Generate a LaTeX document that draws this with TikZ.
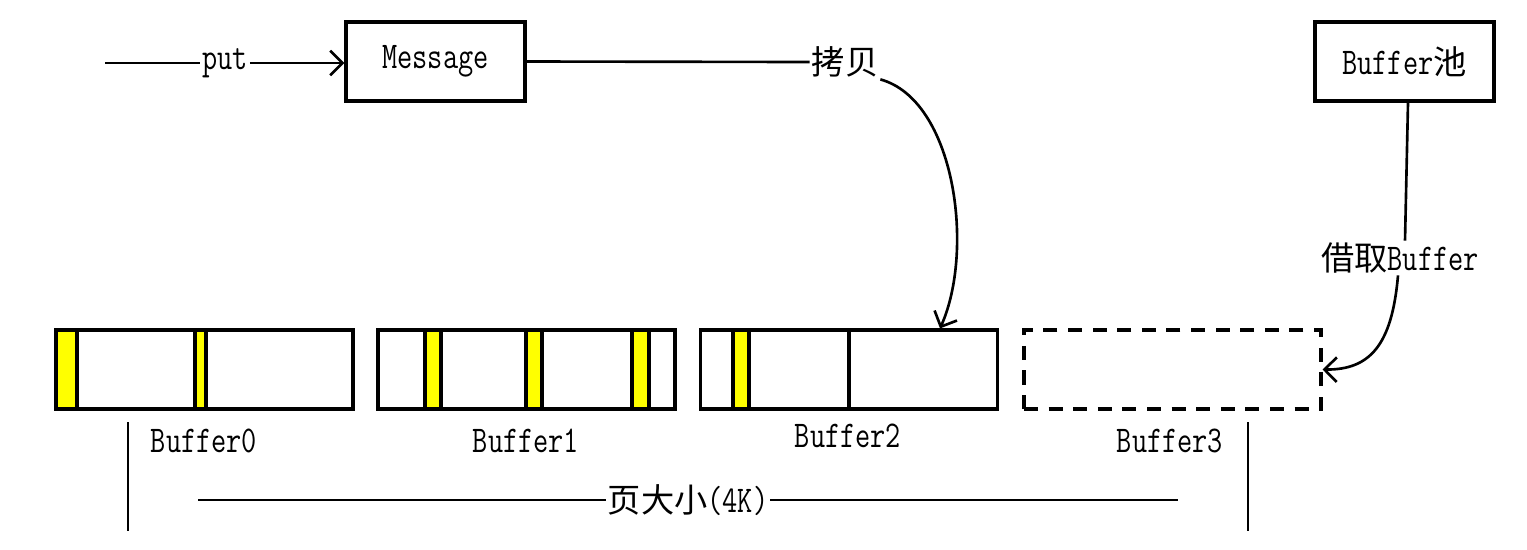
\documentclass[tikz,border=0pt]{standalone}
\usepackage{fontspec}
\usepackage{tikz}
\usetikzlibrary{arrows.meta, positioning, calc}
\setmonofont[FakeStretch=0.78]{Latin Modern Mono}
\newfontfamily\cjk[Scale=0.88]{Noto Sans CJK SC}
\definecolor{stripyellow}{RGB}{255, 255, 0}

\tikzset{
    box/.style={draw, line width=1.8pt, minimum width=3.58cm, minimum height=1.58cm},
    bufbox/.style={draw, line width=1.8pt, minimum width=5.94cm, minimum height=1.58cm},
    strip/.style={fill=stripyellow, draw=black, line width=1.8pt},
    lbl/.style={fill=white, inner sep=1pt},
    arr/.style={line width=1.5pt, -{Straight Barb[length=7pt, width=14pt]}},
    conn/.style={line width=1.5pt},
    guide/.style={line width=0.6pt}
}

\begin{document}
\begin{tikzpicture}[x=0.02cm, y=-0.02cm, font=\ttfamily\fontsize{21.5}{24}\selectfont]
            \useasboundingbox (0,0) rectangle (1527,549);

            % top row
            \node[box] (msg) at (435.5,61.5) {Message};
            \node[box] (pool) at (1404.5,61.5) {Buffer{\cjk 池}};
            \coordinate (src) at (105,63);
            \node[lbl] (put) at (225,63) {put};
            \draw[conn] (src) -- (put);
            \draw[arr] (put.east) -- (put.east -| msg.west);

            % buffers
            \node[bufbox] (buf0) at (204.5,369.5) {};
            \node[bufbox] (buf1) at (526.5,369.5) {};
            \node[bufbox] (buf2) at (849,369.5) {};
            \node[bufbox, dash pattern=on 8pt off 6pt] (buf3) at (1172.5,369.5) {};
            \foreach \a/\b in {56/77, 195/206, 425/441, 526/542, 632/649, 733/749}
                \filldraw[strip] (\a,330) rectangle (\b,409);
            \draw[line width=1.8pt] (buf2.north) -- (buf2.south);

            \node (lbl0) at (204,441) {Buffer0};
            \node (lbl1) at (526,441) {Buffer1};
            \node (lbl2) at (848,436) {Buffer2};
            \node (lbl3) at (1170,441) {Buffer3};

            % copy
            \node[lbl] (cp) at (845,62) {\cjk 拷贝};
            \draw[conn] (msg.east) -- (cp.west);
            \draw[arr] (cp.south east) .. controls (955,100) and (975,250) .. ($(buf2.north)+(91,0)$);

            % borrow
            \node[lbl] (borrow) at (1400,258) {{\cjk 借取}Buffer};
            \draw[conn] (pool.south -| 1408,0) -- (borrow.north -| 1405,0);
            \draw[arr] (borrow.south -| 1398,0) .. controls (1392,345) and (1370,370) .. (buf3.east);

            % page size
            \draw[guide] (128,422) -- (128,531);
            \draw[guide] (1248,422) -- (1248,531);
            \node[lbl] (page) at (688,500) {{\cjk 页大小}(4K)};
            \coordinate (pl) at (198,500);
            \coordinate (pr) at (1178,500);
            \draw[guide] (pl) -- (page);
            \draw[guide] (page) -- (pr);
        \end{tikzpicture}
\end{document}
